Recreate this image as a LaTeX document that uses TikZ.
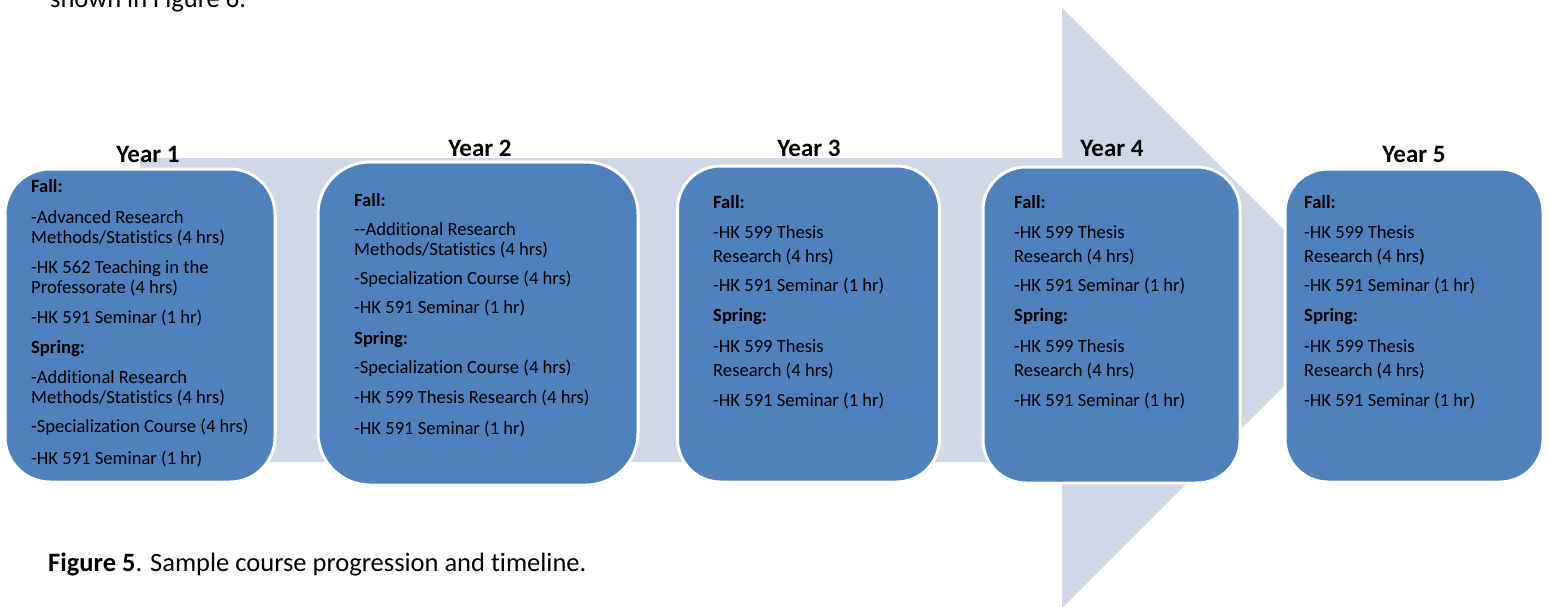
\documentclass[tikz,border=0pt]{standalone}
\usepackage{fontspec}
\setmainfont{Carlito}[Ligatures={TeX,NoCommon}]
\definecolor{boxblue}{HTML}{4F81BD}
\definecolor{arrowfill}{HTML}{D0D8E8}
\newcommand\gp[1]{\vskip#1pt}
\tikzset{
  yearbox/.style={draw=white, line width=3pt, fill=boxblue, rounded corners=#1, inner sep=0pt},
  yearbox/.default=43pt,
  yearlabel/.style={anchor=base, inner sep=0pt, font=\fontsize{25}{30}\selectfont\bfseries},
  boxtext/.style={anchor=base west, inner sep=0pt, align=left, font=\fontsize{18.6}{20}\selectfont},
  doctext/.style={anchor=base west, inner sep=0pt, font=\fontsize{26.5}{32}\selectfont},
}
\begin{document}
\begin{tikzpicture}[x=1pt, y=-1pt]
\useasboundingbox (0,0) rectangle (1549,607);
% big arrow
\fill[arrowfill] (140,158) -- (1062,158) -- (1062,8) -- (1362,308) -- (1062,608) -- (1062,462) -- (140,462) -- cycle;
% top text (cut off in the reference too)
\node[doctext] (top) at (50,8) {shown in Figure 6.};
% boxes
\node[yearbox=45pt, minimum width=270pt, minimum height=313pt] (b1) at (140,325.5) {};
\node[yearbox=52pt, minimum width=320pt, minimum height=323pt] (b2) at (478,323.5) {};
\node[yearbox, minimum width=262pt, minimum height=316pt] (b3) at (808.5,324) {};
\node[yearbox, minimum width=257pt, minimum height=316pt] (b4) at (1111.5,325) {};
\node[yearbox, minimum width=258pt, minimum height=313pt] (b5) at (1414,325.5) {};
% year labels
\node[yearlabel] (y1) at (148,162) {Year 1};
\node[yearlabel] (y2) at (480,157) {Year 2};
\node[yearlabel] (y3) at (809,157) {Year 3};
\node[yearlabel] (y4) at (1112,157) {Year 4};
\node[yearlabel] (y5) at (1414,162) {Year 5};
% box texts
\node[boxtext] (t1) at (31,192) {\vtop{\baselineskip=20pt
  \hbox{\textbf{Fall:}}\gp{11}
  \hbox{-Advanced Research}
  \hbox{Methods/Statistics (4 hrs)}\gp{10}
  \hbox{-HK 562 Teaching in the}
  \hbox{Professorate (4 hrs)}\gp{10}
  \hbox{-HK 591 Seminar (1 hr)}\gp{10}
  \hbox{\textbf{Spring:}}\gp{10}
  \hbox{-Additional Research}
  \hbox{Methods/Statistics (4 hrs)}\gp{9}
  \hbox{-Specialization Course (4 hrs)}\gp{12}
  \hbox{-HK 591 Seminar (1 hr)}}};
\node[boxtext] (t2) at (354,206) {\vtop{\baselineskip=20pt
  \hbox{\textbf{Fall:}}\gp{9}
  \hbox{-{}-Additional Research}
  \hbox{Methods/Statistics (4 hrs)}\gp{9}
  \hbox{-Specialization Course (4 hrs)}\gp{9}
  \hbox{-HK 591 Seminar (1 hr)}\gp{11}
  \hbox{\textbf{Spring:}}\gp{9}
  \hbox{-Specialization Course (4 hrs)}\gp{10}
  \hbox{-HK 599 Thesis Research (4 hrs)}\gp{11}
  \hbox{-HK 591 Seminar (1 hr)}}};
\node[boxtext] (t3) at (713,208) {\vtop{\baselineskip=24pt
  \hbox{\textbf{Fall:}}\gp{6}
  \hbox{-HK 599 Thesis}
  \hbox{Research (4 hrs)}\gp{5}
  \hbox{-HK 591 Seminar (1 hr)}\gp{6}
  \hbox{\textbf{Spring:}}\gp{7}
  \hbox{-HK 599 Thesis}
  \hbox{Research (4 hrs)}\gp{6}
  \hbox{-HK 591 Seminar (1 hr)}}};
\node[boxtext] (t4) at (1014,208) {\vtop{\baselineskip=24pt
  \hbox{\textbf{Fall:}}\gp{6}
  \hbox{-HK 599 Thesis}
  \hbox{Research (4 hrs)}\gp{5}
  \hbox{-HK 591 Seminar (1 hr)}\gp{6}
  \hbox{\textbf{Spring:}}\gp{7}
  \hbox{-HK 599 Thesis}
  \hbox{Research (4 hrs)}\gp{6}
  \hbox{-HK 591 Seminar (1 hr)}}};
\node[boxtext] (t5) at (1304,208) {\vtop{\baselineskip=24pt
  \hbox{\textbf{Fall:}}\gp{6}
  \hbox{-HK 599 Thesis}
  \hbox{Research (4 hrs\textbf{)}}\gp{5}
  \hbox{-HK 591 Seminar (1 hr)}\gp{6}
  \hbox{\textbf{Spring:}}\gp{7}
  \hbox{-HK 599 Thesis}
  \hbox{Research (4 hrs)}\gp{6}
  \hbox{-HK 591 Seminar (1 hr)}}};
% caption
\node[doctext] (cap) at (48,571) {\textbf{Figure 5}. Sample course progression and timeline.};
\end{tikzpicture}
\end{document}
